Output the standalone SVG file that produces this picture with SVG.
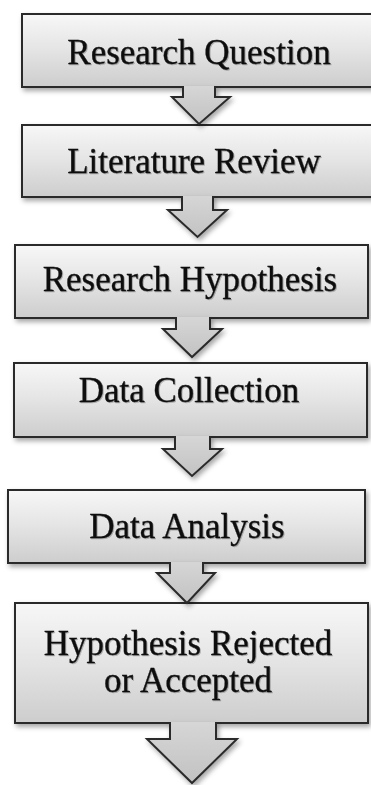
<svg xmlns="http://www.w3.org/2000/svg" width="371" height="785" viewBox="0 0 371 785">
  <defs>
    <linearGradient id="boxFill" x1="0" y1="0" x2="0" y2="1">
      <stop offset="0" stop-color="#f7f7f7"/>
      <stop offset="0.45" stop-color="#e6e6e6"/>
      <stop offset="1" stop-color="#cdcdcd"/>
    </linearGradient>
    <linearGradient id="arrowFill" x1="0" y1="0" x2="0" y2="1">
      <stop offset="0" stop-color="#d6d6d6"/>
      <stop offset="1" stop-color="#c2c2c2"/>
    </linearGradient>
    <filter id="shadow" x="-10%" y="-10%" width="125%" height="140%">
      <feDropShadow dx="2" dy="3" stdDeviation="2.5" flood-color="#000" flood-opacity="0.35"/>
    </filter>
    <filter id="textShadow" x="-5%" y="-20%" width="110%" height="150%">
      <feDropShadow dx="1" dy="1" stdDeviation="0.7" flood-color="#000" flood-opacity="0.25"/>
    </filter>
  </defs>
  <style>
    .box { fill: url(#boxFill); stroke: #2b2b2b; stroke-width: 2; filter: url(#shadow); }
    .arrow { fill: url(#arrowFill); stroke: #2b2b2b; stroke-width: 2; stroke-linejoin: miter; filter: url(#shadow); }
    .label { font-family: "Liberation Serif", "Times New Roman", serif; font-size: 35px; fill: #111111; stroke: #111111; stroke-width: 0.35; text-anchor: middle; filter: url(#textShadow); }
  </style>

  <rect width="371" height="785" fill="#ffffff"/>

  <!-- boxes -->
  <g id="research-question">
    <rect class="box" x="22" y="14" width="356" height="73"/>
    <text class="label" x="199" y="64">Research Question</text>
  </g>
  <g id="literature-review">
    <rect class="box" x="22" y="125" width="356" height="72"/>
    <text class="label" x="194" y="173">Literature Review</text>
  </g>
  <g id="research-hypothesis">
    <rect class="box" x="15" y="245" width="353" height="73"/>
    <text class="label" x="190" y="291">Research Hypothesis</text>
  </g>
  <g id="data-collection">
    <rect class="box" x="14" y="363" width="353" height="74"/>
    <text class="label" x="189" y="402">Data Collection</text>
  </g>
  <g id="data-analysis">
    <rect class="box" x="8" y="490" width="357" height="73"/>
    <text class="label" x="187" y="538">Data Analysis</text>
  </g>
  <g id="hypothesis-result">
    <rect class="box" x="15" y="603" width="353" height="120"/>
    <text class="label" x="188" y="655">Hypothesis Rejected</text>
    <text class="label" x="188" y="692">or Accepted</text>
  </g>

  <!-- block arrows between steps -->
  <g id="connectors">
    <path class="arrow" d="M183,86 L183,97 L172,97 L199,124 L230,97 L215,97 L215,86"/>
    <path class="arrow" d="M182,196 L182,210 L168,210 L197.5,237 L227,210 L213,210 L213,196"/>
    <path class="arrow" d="M176,317 L176,329 L163,329 L192,357 L222,329 L210,329 L210,317"/>
    <path class="arrow" d="M175,436 L175,449 L163,449 L192,476 L222,449 L210,449 L210,436"/>
    <path class="arrow" d="M170,562 L170,573 L157,573 L187,603 L215,573 L203,573 L203,562"/>
    <path class="arrow" d="M170,722 L170,739 L147,739 L192,783 L237,739 L216,739 L216,722"/>
  </g>
</svg>
